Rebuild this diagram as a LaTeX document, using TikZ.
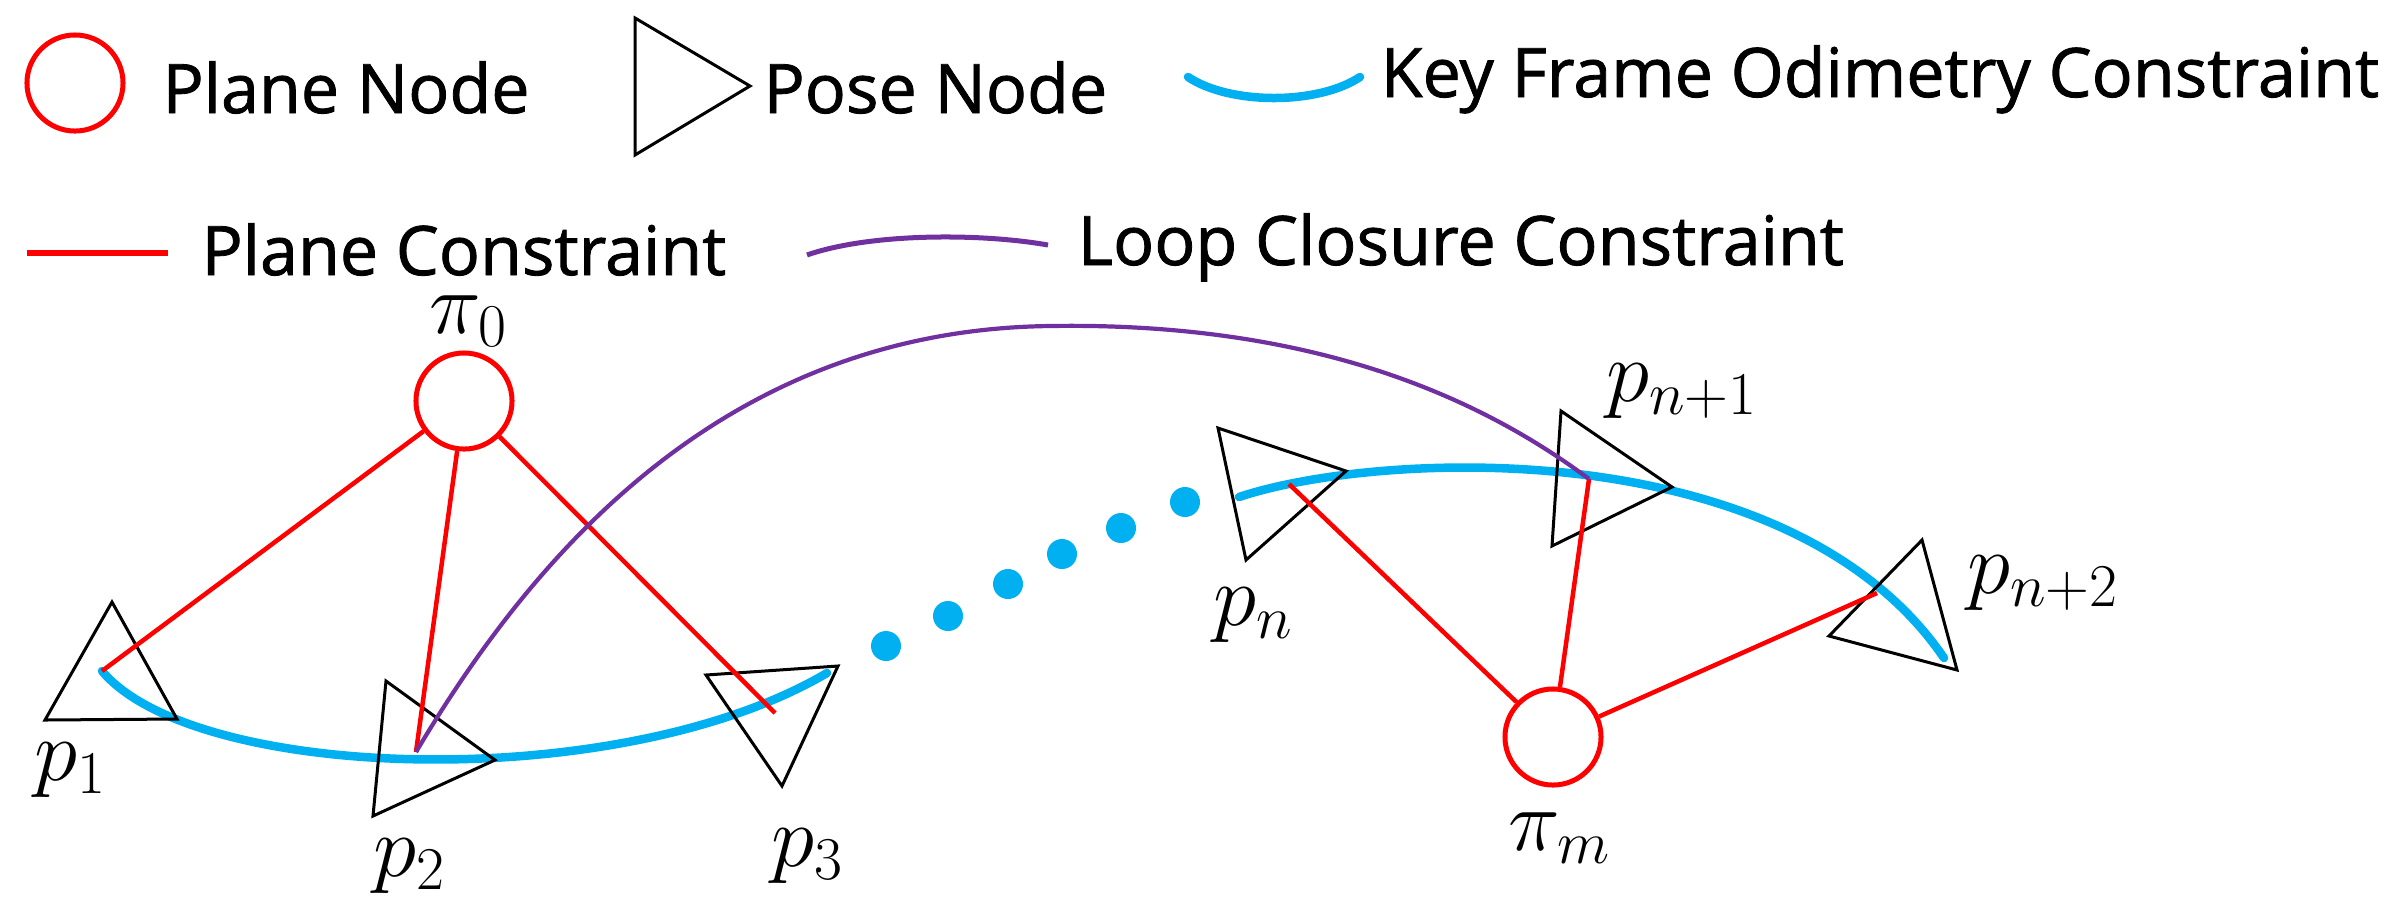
\documentclass[tikz,border=0pt]{standalone}
\usepackage{fontspec}
\setmainfont{Open Sans}[FakeBold=1.2]
\definecolor{odocyan}{RGB}{0,176,240}
\definecolor{loopviolet}{RGB}{112,48,160}
\begin{document}
\begin{tikzpicture}[x=0.01cm,y=-0.01cm,
    legtext/.style={anchor=base west,inner sep=0pt,font=\fontsize{19.4}{23}\selectfont},
    lab/.style={inner sep=0pt,font=\fontsize{24}{28}\selectfont},
    plane/.style={draw=red,line width=0.5mm,circle,minimum size=0.96cm,inner sep=0pt},
    pose/.style={draw=black,line width=0.3mm,line join=miter},
    planecon/.style={draw=red,line width=0.45mm},
    odom/.style={draw=odocyan,line width=0.85mm,line cap=round},
    loopcon/.style={draw=loopviolet,line width=0.42mm}]
  \useasboundingbox (0,0) rectangle (2400,911);
  % legend
  \node[plane] (legplane) at (75,83) {};
  \node[legtext] (tplane) at (162,113) {Plane Node};
  \draw[pose] (635,18) -- (635,155) -- (750,86) -- cycle;
  \node[legtext] (tpose) at (763,113) {Pose Node};
  \draw[odom] (1188,77) .. controls (1230,105) and (1318,105) .. (1360,77);
  \node[legtext] (todom) at (1380,97) {Key Frame Odimetry Constraint};
  \draw[planecon,line width=0.6mm] (27,253) -- (168,253);
  \node[legtext] (tcon) at (201,275) {Plane Constraint};
  \draw[loopcon,line width=0.5mm] (807,255) .. controls (870,233) and (980,233) .. (1048,245);
  \node[legtext] (tloop) at (1077,265) {Loop Closure Constraint};
  % planes and anchor points in the poses
  \node[plane] (pi0) at (464,401) {};
  \node[plane] (pim) at (1553,737) {};
  \coordinate (k1) at (102,671);
  \coordinate (k2) at (416,752);
  \coordinate (k3) at (775,713);
  \coordinate (e3) at (827,673);
  \coordinate (en) at (1239,497);
  \coordinate (kn) at (1289,484);
  \coordinate (kn1) at (1589,479);
  \coordinate (kn2) at (1877,593);
  \coordinate (en2) at (1944,658);
  \coordinate (top) at (1050,326);
  % odometry
  \draw[odom] (k1) .. controls (195,782) and (620,795) .. (e3);
  \draw[odom] (en) .. controls (1380,450) and (1790,432) .. (en2);
  \foreach \x/\y in {886/646,948/616,1008/584,1062/554,1121/528,1185/502}
    \fill[odocyan] (\x,\y) circle (15);
  % poses
  \draw[pose] (112,602) -- (45,720) -- (177,719) -- cycle;
  \draw[pose] (386,681) -- (373,816) -- (495,760) -- cycle;
  \draw[pose] (706,675) -- (838,666) -- (782,786) -- cycle;
  \draw[pose] (1218,428) -- (1246,560) -- (1346,471) -- cycle;
  \draw[pose] (1561,411) -- (1552,546) -- (1672,487) -- cycle;
  \draw[pose] (1922,540) -- (1829,636) -- (1957,670) -- cycle;
  % plane constraints
  \draw[planecon] (pi0) -- (k1);
  \draw[planecon] (pi0) -- (k2);
  \draw[planecon] (pi0) -- (k3);
  \draw[planecon] (pim) -- (kn);
  \draw[planecon] (pim) -- (kn1);
  \draw[planecon] (pim) -- (kn2);
  % loop closure
  \draw[loopcon] (k2) .. controls (530,560) and (720,330) .. (top)
    .. controls (1300,322) and (1470,390) .. (kn1);
  % labels
  \node[lab] (lpi0) at (469,321) {$\pi_0$};
  \node[lab] (lpim) at (1560,838) {$\pi_m$};
  \node[lab] (lp1) at (71,770) {$p_1$};
  \node[lab] (lp2) at (410,866) {$p_2$};
  \node[lab] (lp3) at (808,856) {$p_3$};
  \node[lab] (lpn) at (1254,615) {$p_n$};
  \node[lab] (lpn1) at (1682,391) {$p_{n+1}$};
  \node[lab] (lpn2) at (2043,583) {$p_{n+2}$};
\end{tikzpicture}
\end{document}
